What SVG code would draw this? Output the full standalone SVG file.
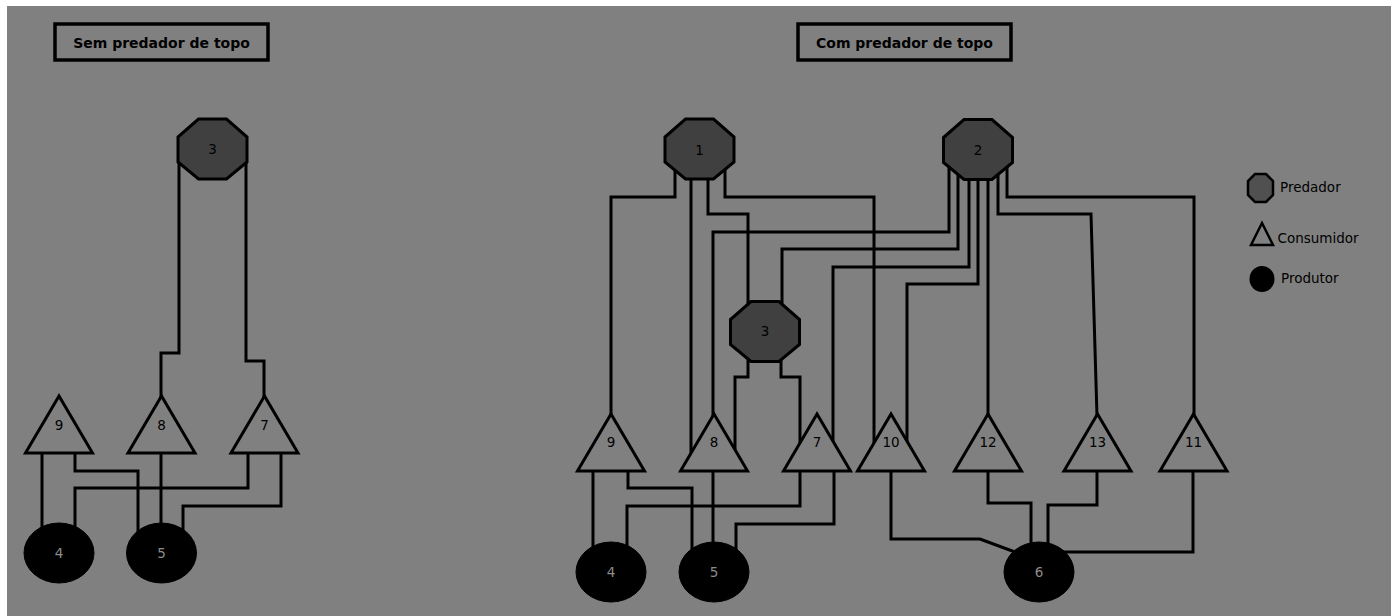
<svg xmlns="http://www.w3.org/2000/svg" width="1391" height="616" viewBox="0 0 1391 616">
<style>
.bg{fill:#808080}
.title{fill:none;stroke:#000;stroke-width:3.5}
.tt{font-family:"DejaVu Sans",sans-serif;font-weight:bold;font-size:14px;fill:#000;text-anchor:middle}
.oct{fill:#404040;stroke:#000;stroke-width:3}
.tri{fill:#808080;stroke:#000;stroke-width:3;stroke-linejoin:miter}
.ell{fill:#000;stroke:#000;stroke-width:1}
.lbl{font-family:"DejaVu Sans",sans-serif;font-size:13.5px;fill:#000;text-anchor:middle}
.elbl{font-family:"DejaVu Sans",sans-serif;font-size:13.5px;fill:#8c8c8c;text-anchor:middle}
.leg{font-family:"DejaVu Sans",sans-serif;font-size:13.5px;fill:#000}
.c{fill:none;stroke:#000;stroke-width:3}
</style>
<defs>
<polygon id="octa" points="-14,-30 14,-30 34.5,-12 34.5,13 14,30 -14,30 -34.5,13 -34.5,-12"/>
<polygon id="tria" points="0,0 -33.5,57 33.5,57"/>
</defs>
<rect width="1391" height="616" fill="#fff"/>
<rect class="bg" x="7" y="6" width="1384" height="610"/>

<g id="title-left"><rect class="title" x="55" y="24" width="213" height="36"/><text class="tt" x="161.5" y="47.5">Sem predador de topo</text></g>
<g id="title-right"><rect class="title" x="798" y="24" width="213" height="36"/><text class="tt" x="904.5" y="47.5">Com predador de topo</text></g>

<g id="connectors">
<!-- left -->
<path class="c" d="M179,160 V353 H161 V398"/>
<path class="c" d="M246,160 V361 H264 V398"/>
<path class="c" d="M42,453 V540"/>
<path class="c" d="M75,453 V471 H138 V540"/>
<path class="c" d="M75,540 V488 H248 V453"/>
<path class="c" d="M161,453 V540"/>
<path class="c" d="M183,540 V506 H281 V453"/>
<!-- right, from 1 -->
<path class="c" d="M675,165 V197 H611 V416"/>
<path class="c" d="M691,175 V460"/>
<path class="c" d="M708,175 V214 H748 V305"/>
<path class="c" d="M725,165 V197 H874 V460"/>
<!-- from 3 -->
<path class="c" d="M748,358 V377 H735 V460"/>
<path class="c" d="M781,358 V377 H800 V460"/>
<!-- from 2 -->
<path class="c" d="M949,165 V232 H713 V416"/>
<path class="c" d="M958,175 V249 H782 V305"/>
<path class="c" d="M969,175 V267 H833 V460"/>
<path class="c" d="M978,175 V284 H907 V460"/>
<path class="c" d="M988,175 V416"/>
<path class="c" d="M998,175 V214 H1091 L1097,416"/>
<path class="c" d="M1007,165 V197 H1194 V416"/>
<!-- bottom right -->
<path class="c" d="M593,470 V560"/>
<path class="c" d="M628,470 V488 H692 V560"/>
<path class="c" d="M627,560 V506 H800 V470"/>
<path class="c" d="M713,470 V560"/>
<path class="c" d="M736,560 V524 H834 V470"/>
<path class="c" d="M891,470 V539 H980 L1015,552"/>
<path class="c" d="M988,470 V503 H1031 V560"/>
<path class="c" d="M1097,470 V505 H1048 V560"/>
<path class="c" d="M1193,470 V552 H1050"/>
</g>

<!-- left nodes -->
<g id="L3"><use href="#octa" class="oct" x="212.5" y="149"/><text class="lbl" x="212.5" y="154">3</text></g>
<g id="L9"><use href="#tria" class="tri" x="59" y="396"/><text class="lbl" x="59" y="429.5">9</text></g>
<g id="L8"><use href="#tria" class="tri" x="161.5" y="396"/><text class="lbl" x="161.5" y="429.5">8</text></g>
<g id="L7"><use href="#tria" class="tri" x="264.5" y="396"/><text class="lbl" x="264.5" y="429.5">7</text></g>
<g id="L4"><ellipse class="ell" cx="59" cy="553" rx="35" ry="30"/><text class="elbl" x="59" y="558">4</text></g>
<g id="L5"><ellipse class="ell" cx="161.5" cy="553" rx="35" ry="30"/><text class="elbl" x="161.5" y="558">5</text></g>

<!-- right nodes -->
<g id="R1"><use href="#octa" class="oct" x="699.5" y="149"/><text class="lbl" x="699.5" y="155">1</text></g>
<g id="R2"><use href="#octa" class="oct" x="978" y="149.5"/><text class="lbl" x="978" y="155">2</text></g>
<g id="R3"><use href="#octa" class="oct" x="765" y="331.5"/><text class="lbl" x="765" y="336">3</text></g>
<g id="R9"><use href="#tria" class="tri" x="611" y="414"/><text class="lbl" x="611" y="447">9</text></g>
<g id="R8"><use href="#tria" class="tri" x="714" y="414"/><text class="lbl" x="714" y="447">8</text></g>
<g id="R7"><use href="#tria" class="tri" x="817" y="414"/><text class="lbl" x="817" y="447">7</text></g>
<g id="R10"><use href="#tria" class="tri" x="891" y="414"/><text class="lbl" x="891" y="447">10</text></g>
<g id="R12"><use href="#tria" class="tri" x="988" y="414"/><text class="lbl" x="988" y="447">12</text></g>
<g id="R13"><use href="#tria" class="tri" x="1097.5" y="414"/><text class="lbl" x="1097.5" y="447">13</text></g>
<g id="R11"><use href="#tria" class="tri" x="1193.5" y="414"/><text class="lbl" x="1193.5" y="447">11</text></g>
<g id="R4"><ellipse class="ell" cx="611" cy="572" rx="35" ry="30"/><text class="elbl" x="611" y="577">4</text></g>
<g id="R5"><ellipse class="ell" cx="714" cy="572" rx="35" ry="30"/><text class="elbl" x="714" y="577">5</text></g>
<g id="R6"><ellipse class="ell" cx="1039" cy="572" rx="35" ry="30"/><text class="elbl" x="1039" y="577">6</text></g>

<!-- legend -->
<g id="legend-predador"><polygon points="1255,174 1266,174 1273,181 1273,195 1266,202 1255,202 1248,195 1248,181" fill="#505050" stroke="#000" stroke-width="2.5"/><text class="leg" x="1280" y="192">Predador</text></g>
<g id="legend-consumidor"><polygon points="1262,223 1251,245 1273,245" fill="#808080" stroke="#000" stroke-width="2.5"/><text class="leg" x="1277.5" y="243">Consumidor</text></g>
<g id="legend-produtor"><ellipse cx="1262" cy="279" rx="12.5" ry="13" fill="#000"/><text class="leg" x="1281" y="283">Produtor</text></g>
</svg>
